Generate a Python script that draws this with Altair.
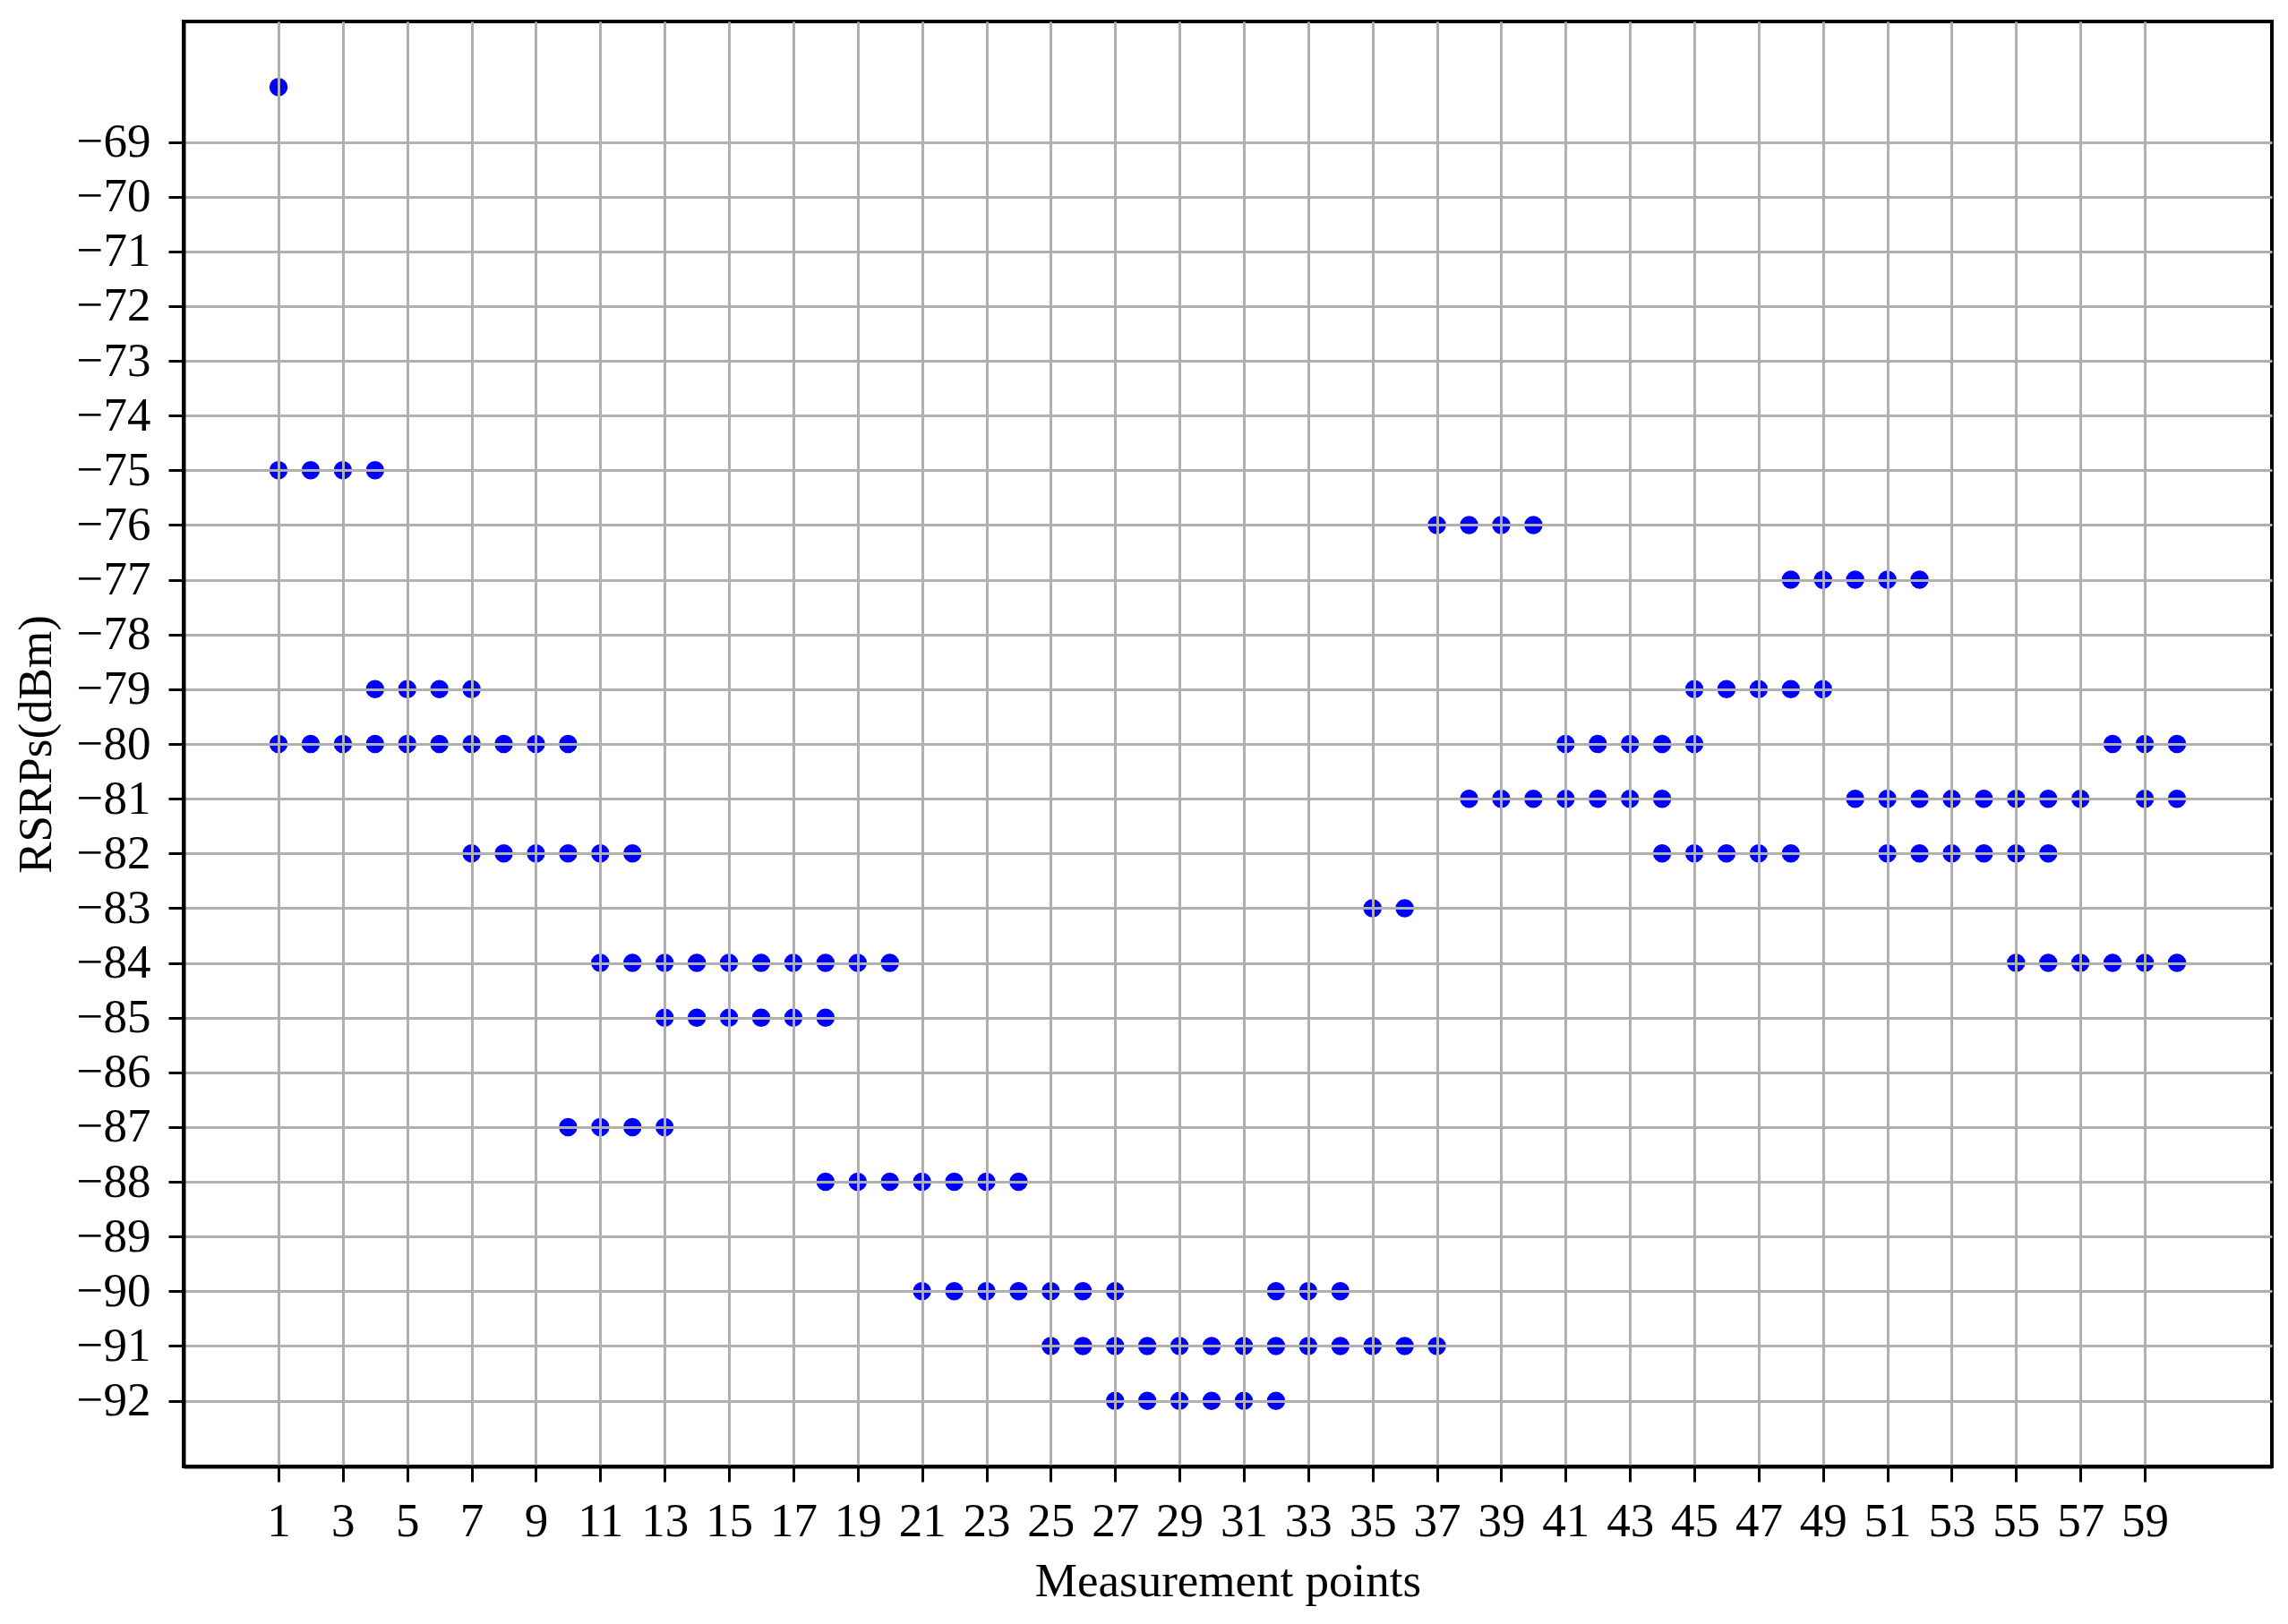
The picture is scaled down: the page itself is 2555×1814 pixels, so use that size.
import altair as alt
import pandas as pd

# Measurement points at which each RSRP level (dBm) was observed
level_m68 = [1]
level_m75 = [1, 2, 3, 4]
level_m76 = [37, 38, 39, 40]
level_m77 = [48, 49, 50, 51, 52]
level_m79 = [4, 5, 6, 7, 45, 46, 47, 48, 49]
level_m80 = [1, 2, 3, 4, 5, 6, 7, 8, 9, 10, 41, 42, 43, 44, 45, 58, 59, 60]
level_m81 = [38, 39, 40, 41, 42, 43, 44, 50, 51, 52, 53, 54, 55, 56, 57, 59, 60]
level_m82 = [7, 8, 9, 10, 11, 12, 44, 45, 46, 47, 48, 51, 52, 53, 54, 55, 56]
level_m83 = [35, 36]
level_m84 = [11, 12, 13, 14, 15, 16, 17, 18, 19, 20, 55, 56, 57, 58, 59, 60]
level_m85 = [13, 14, 15, 16, 17, 18]
level_m87 = [10, 11, 12, 13]
level_m88 = [18, 19, 20, 21, 22, 23, 24]
level_m90 = [21, 22, 23, 24, 25, 26, 27, 32, 33, 34]
level_m91 = [25, 26, 27, 28, 29, 30, 31, 32, 33, 34, 35, 36, 37]
level_m92 = [27, 28, 29, 30, 31, 32]

levels = {
    -68: level_m68, -75: level_m75, -76: level_m76, -77: level_m77,
    -79: level_m79, -80: level_m80, -81: level_m81, -82: level_m82,
    -83: level_m83, -84: level_m84, -85: level_m85, -87: level_m87,
    -88: level_m88, -90: level_m90, -91: level_m91, -92: level_m92,
}

x_ticks = list(range(1, 61, 2))
y_ticks = list(range(-69, -93, -1))

rows = []
for rsrp, pts in levels.items():
    for p in pts:
        rows.append({"point": p, "rsrp": rsrp})
df = pd.DataFrame(rows)

FONT = "Liberation Serif"
FS = 53
W, H = 2332, 1614

chart = alt.Chart(df).mark_circle(size=420, color="#0000ff", opacity=1).encode(
    x=alt.X("point:Q",
            scale=alt.Scale(domain=[-1.95, 62.95], nice=False, zero=False),
            axis=alt.Axis(values=x_ticks, title="Measurement points",
                          grid=True, gridColor="#b0b0b0", gridWidth=3, gridOpacity=1,
                          tickSize=17, tickWidth=3, tickColor="black",
                          domainColor="black", domainWidth=4,
                          labelFont=FONT, labelFontSize=FS, labelColor="black",
                          labelPadding=18, labelFlush=False, labelOverlap=False,
                          titleFont=FONT, titleFontSize=FS, titleFontWeight="normal",
                          titleColor="black", titleX=W / 2, titleY=144,
                          titleBaseline="alphabetic", titleAlign="center",
                          zindex=1)),
    y=alt.Y("rsrp:Q",
            scale=alt.Scale(domain=[-93.2, -66.8], nice=False, zero=False),
            axis=alt.Axis(values=y_ticks, title="RSRPs(dBm)",
                          labelExpr="replace(datum.label, '-', '\u2212')",
                          grid=True, gridColor="#b0b0b0", gridWidth=3, gridOpacity=1,
                          tickSize=17, tickWidth=3, tickColor="black",
                          domainColor="black", domainWidth=4,
                          labelFont=FONT, labelFontSize=FS, labelColor="black",
                          labelPadding=20, labelFlush=False, labelOverlap=False,
                          titleFont=FONT, titleFontSize=FS, titleFontWeight="normal",
                          titleColor="black", titleX=-165, titleY=H / 2,
                          titleAngle=-90, titleBaseline="middle", titleAlign="center",
                          zindex=1)),
).properties(
    width=W, height=H,
    autosize=alt.AutoSizeParams(type="none"),
    padding={"left": 197, "top": 16, "right": 10, "bottom": 160},
    background="white",
).configure_view(
    stroke="black", strokeWidth=4
)

chart.save("out.html", embed_options={"renderer": "svg", "actions": False})
